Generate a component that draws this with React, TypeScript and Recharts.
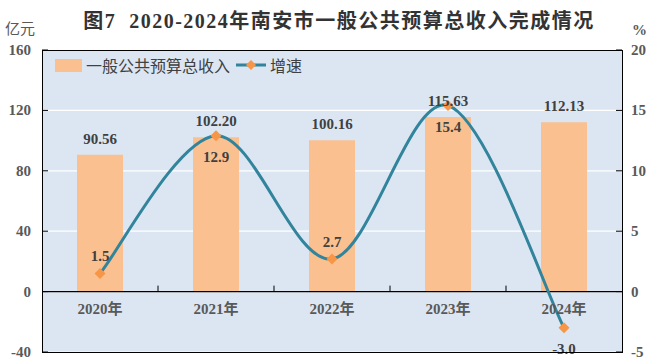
import React from 'react'
import {
  ComposedChart, Bar, Line, XAxis, YAxis, CartesianGrid, ReferenceLine, LabelList,
} from 'recharts'

// ── Data ─────────────────────────────────────────────────────────────────────
const YEARS = ['2020年', '2021年', '2022年', '2023年', '2024年']
const REVENUE = [90.56, 102.2, 100.16, 115.63, 112.13]   // 亿元
const GROWTH = [1.5, 12.9, 2.7, 15.4, -3.0]               // %
const LEFT_TICKS = [-40, 0, 40, 80, 120, 160]
const RIGHT_TICKS = [-5, 0, 5, 10, 15, 20]
const GROWTH_LABEL_SIDE = ['top', 'bottom', 'top', 'bottom', 'bottom']

const data = YEARS.map((year, i) => ({ year, revenue: REVENUE[i], growth: GROWTH[i] }))

// ── Layout / theme ───────────────────────────────────────────────────────────
const W = 654
const H = 358
const LEFT_W = 42
const RIGHT_W = 32
const X_H = 2
const M = { top: 50, right: 0, bottom: 4, left: 0 }
const PLOT_W = W - LEFT_W - RIGHT_W
const PLOT_H = H - M.top - M.bottom - X_H
const ZERO_Y = M.top + PLOT_H * (160 / 200)
const BAND = PLOT_W / YEARS.length

const C = {
  bar: '#FAC090',
  line: '#31849B',
  dot: '#F79646',
  bg: '#DCE6F2',
  axis: '#595959',
  label: '#404040',
}
const SERIF = '"Liberation Serif", "Times New Roman", "Noto Sans CJK SC", serif'
const CJK = '"Noto Sans CJK SC", "Noto Sans", sans-serif'

// excel-like smoothed line (catmull-rom through the points)
function smoothCurve(ctx: any) {
  let pts: number[][] = []
  return {
    areaStart() {},
    areaEnd() {},
    lineStart() { pts = [] },
    point(x: number, y: number) { pts.push([+x, +y]) },
    lineEnd() {
      if (!pts.length) return
      ctx.moveTo(pts[0][0], pts[0][1])
      for (let i = 0; i < pts.length - 1; i++) {
        const p0 = pts[i - 1] || pts[i]
        const p1 = pts[i]
        const p2 = pts[i + 1]
        const p3 = pts[i + 2] || pts[i + 1]
        ctx.bezierCurveTo(
          p1[0] + (p2[0] - p0[0]) / 6, p1[1] + (p2[1] - p0[1]) / 6,
          p2[0] - (p3[0] - p1[0]) / 6, p2[1] - (p3[1] - p1[1]) / 6,
          p2[0], p2[1],
        )
      }
    },
  }
}

const tickText = { fontFamily: SERIF, fontSize: 15, fontWeight: 700, fill: C.axis }

function LeftTick({ x, y, payload }: any) {
  return (
    <g>
      <line x1={x} x2={x + 6} y1={y} y2={y} stroke="#000" />
      <text x={x - 11} y={y} dy={5} textAnchor="end" {...tickText}>{payload.value}</text>
    </g>
  )
}

function RightTick({ x, y, payload }: any) {
  return (
    <g>
      <line x1={x - 6} x2={x} y1={y} y2={y} stroke="#000" />
      <text x={x + 9} y={y} dy={5} textAnchor="start" {...tickText}>{payload.value}</text>
    </g>
  )
}

function CategoryTick({ x, payload, index }: any) {
  return (
    <g>
      {index < YEARS.length - 1 && (
        <line x1={x + BAND / 2} x2={x + BAND / 2} y1={ZERO_Y - 6} y2={ZERO_Y} stroke="#000" />
      )}
      <text x={x} y={ZERO_Y + 17} dy={5} textAnchor="middle" {...tickText}>{payload.value}</text>
    </g>
  )
}

function Diamond({ cx, cy }: any) {
  if (cx == null || cy == null) return null
  const r = 5.5
  return <path d={`M${cx},${cy - r}L${cx + r},${cy}L${cx},${cy + r}L${cx - r},${cy}Z`} fill={C.dot} />
}

function BarValue({ x, y, width, value }: any) {
  return (
    <text x={x + width / 2} y={y - 16} dy={5} textAnchor="middle"
      fontFamily={SERIF} fontSize={15} fontWeight={700} fill={C.label}>
      {Number(value).toFixed(2)}
    </text>
  )
}

function GrowthValue({ x, y, value, index }: any) {
  const dy = GROWTH_LABEL_SIDE[index] === 'top' ? -17 : 21
  return (
    <text x={x} y={y + dy} dy={5} textAnchor="middle"
      fontFamily={SERIF} fontSize={15} fontWeight={700} fill={C.label}>
      {Number(value).toFixed(1)}
    </text>
  )
}

function LegendBox() {
  return (
    <div style={{
      position: 'absolute', left: 55, top: 55, display: 'flex', alignItems: 'center',
      fontFamily: CJK, fontSize: 16, color: C.label, lineHeight: '20px', whiteSpace: 'nowrap',
    }}>
      <span style={{ display: 'inline-block', width: 27, height: 13, background: C.bar, marginRight: 4 }} />
      <span>一般公共预算总收入</span>
      <svg width={30} height={14} style={{ margin: '0 4px 0 6px' }}>
        <line x1={0} x2={30} y1={7} y2={7} stroke={C.line} strokeWidth={3} />
        <path d="M15,2L20,7L15,12L10,7Z" fill={C.dot} />
      </svg>
      <span>增速</span>
    </div>
  )
}

export default function App() {
  return (
    <div style={{ position: 'absolute', left: 0, top: 0, width: W, height: H, background: '#fff' }}>
      <div style={{
        position: 'absolute', left: 12, top: 5, width: W, textAlign: 'center',
        fontFamily: SERIF, fontSize: 20, fontWeight: 700, color: '#333', letterSpacing: 1.5,
      }}>
        图7&nbsp;&nbsp;2020-2024年南安市一般公共预算总收入完成情况
      </div>
      <div style={{ position: 'absolute', left: 5, top: 17, fontFamily: CJK, fontSize: 15, color: C.axis }}>亿元</div>
      <div style={{ position: 'absolute', left: 632, top: 22, fontFamily: SERIF, fontSize: 15, fontWeight: 700, color: C.axis }}>%</div>

      <ComposedChart width={W} height={H} data={data} margin={M}>
        <CartesianGrid yAxisId="left" vertical={false} stroke="#fff" fill={C.bg} strokeWidth={1.2} />
        <XAxis dataKey="year" height={X_H} axisLine={false} tickLine={false} tickSize={0}
          tick={<CategoryTick />} interval={0} />
        <YAxis yAxisId="left" domain={[-40, 160]} ticks={LEFT_TICKS} width={LEFT_W}
          axisLine={false} tickLine={false} tickSize={0} tickMargin={0}
          tick={<LeftTick />} interval={0} />
        <YAxis yAxisId="right" orientation="right" domain={[-5, 20]} ticks={RIGHT_TICKS} width={RIGHT_W}
          axisLine={false} tickLine={false} tickSize={0} tickMargin={0}
          tick={<RightTick />} interval={0} />
        <Bar yAxisId="left" dataKey="revenue" fill={C.bar} barSize={46} isAnimationActive={false}>
          <LabelList dataKey="revenue" content={<BarValue />} />
        </Bar>
        <ReferenceLine yAxisId="left" y={0} stroke="#000" strokeWidth={1.2} />
        <Line yAxisId="right" dataKey="growth" type={smoothCurve as any} stroke={C.line} strokeWidth={3}
          dot={<Diamond />} activeDot={false} isAnimationActive={false}>
          <LabelList dataKey="growth" content={<GrowthValue />} />
        </Line>
      </ComposedChart>
      {/* plot frame */}
      <div style={{
        position: 'absolute', left: LEFT_W - 0.5, top: M.top - 0.5, width: PLOT_W - 1, height: PLOT_H - 1,
        border: '1.5px solid #000', pointerEvents: 'none',
      }} />
      <LegendBox />
    </div>
  )
}
